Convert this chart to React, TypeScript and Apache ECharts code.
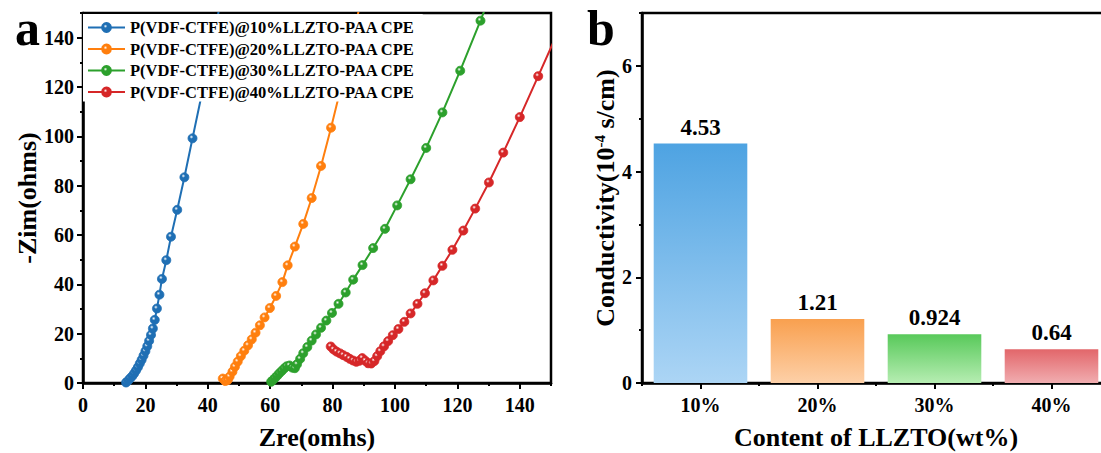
import { useEffect, useRef } from "react";
import * as echarts from "echarts";

const FONT = "'Liberation Serif', 'Times New Roman', serif";

// Nyquist plots, [Zre, -Zim] in ohms
const seriesNames = [
  "P(VDF-CTFE)@10%LLZTO-PAA CPE",
  "P(VDF-CTFE)@20%LLZTO-PAA CPE",
  "P(VDF-CTFE)@30%LLZTO-PAA CPE",
  "P(VDF-CTFE)@40%LLZTO-PAA CPE",
];
const lineColors = ["#1f6fb4", "#ff7f0e", "#2ca02c", "#d62728"];

const nyquist10 = [
  [13.8, 0.2], [14.5, 1.0], [15.1, 1.9], [15.8, 2.8], [16.4, 3.9], [17.0, 5.1],
  [17.6, 6.4], [18.2, 7.9], [18.8, 9.4], [19.4, 11.1], [20.0, 12.9], [20.6, 14.9],
  [21.2, 17.1], [21.8, 19.5], [22.4, 22.1], [23.0, 25.6], [23.7, 30.2], [24.5, 35.8],
  [25.3, 42.2], [26.7, 49.8], [28.2, 59.3], [30.2, 70.2], [32.5, 83.4], [35.1, 99.2],
  [38.3, 118.5], [42.0, 141.5], [46.3, 168.0],
];
const nyquist20 = [
  [44.8, 1.8], [45.6, 0.8], [46.4, 1.2], [47.0, 2.6], [47.9, 4.6], [48.7, 6.6],
  [49.6, 8.7], [50.6, 10.9], [51.7, 13.1], [52.9, 15.3], [54.1, 17.7], [55.3, 20.4],
  [56.7, 23.4], [58.2, 26.6], [59.9, 30.4], [61.9, 35.3], [63.9, 40.9], [65.6, 47.7],
  [67.9, 55.3], [70.6, 64.5], [73.3, 75.0], [76.3, 88.0], [79.5, 103.5], [83.0, 121.5],
  [86.8, 142.0], [91.0, 166.0],
];
const nyquist30 = [
  [60.3, 0.5], [60.9, 1.2], [61.5, 2.0], [62.2, 2.9], [62.9, 3.9], [63.7, 4.9],
  [64.5, 5.9], [65.3, 6.8], [66.2, 7.1], [67.1, 6.2], [67.9, 6.0], [68.6, 7.6],
  [69.6, 9.8], [70.6, 12.1], [71.9, 14.6], [73.3, 17.2], [74.7, 19.7], [76.3, 22.4],
  [78.0, 25.3], [79.8, 28.4], [81.9, 32.1], [84.2, 36.7], [86.6, 41.9], [89.6, 47.8],
  [93.0, 54.7], [96.8, 62.5], [100.7, 72.0], [105.0, 82.6], [110.0, 95.3], [115.2, 109.7],
  [120.9, 126.6], [127.4, 146.9], [134.5, 170.0],
];
const nyquist40 = [
  [79.4, 14.8], [80.3, 13.6], [81.3, 12.7], [82.4, 12.0], [83.4, 11.3], [84.5, 10.6],
  [85.5, 9.8], [86.6, 9.1], [87.6, 8.6], [88.6, 9.0], [89.5, 10.1], [90.5, 9.0],
  [91.4, 8.0], [92.4, 7.9], [93.4, 8.9], [94.3, 10.9], [95.3, 12.9], [96.5, 14.9],
  [97.8, 17.0], [99.3, 19.4], [101.1, 21.9], [103.0, 24.8], [105.0, 28.2], [107.2, 32.1],
  [109.6, 36.4], [112.3, 41.6], [115.2, 47.5], [118.4, 54.0], [121.9, 61.8], [125.7, 70.7],
  [130.1, 81.3], [134.7, 93.4], [140.0, 107.8], [145.9, 124.4], [152.3, 142.5],
];
const nyquistData = [nyquist10, nyquist20, nyquist30, nyquist40];

// Ionic conductivity (10^-4 S/cm) vs LLZTO content
const contents = ["10%", "20%", "30%", "40%"];
const conductivity = [4.53, 1.21, 0.924, 0.64];
const barTopColors = ["#4ea3e2", "#f9a04f", "#58c95a", "#e2666a"];
const barBottomColors = ["#acd5f5", "#fdd0a8", "#b6edb2", "#f1adb0"];

const boldText = (size: number) => ({
  fontFamily: FONT,
  fontWeight: "bold" as const,
  fontSize: size,
  color: "#000",
});

const axisLineStyle = { show: true, lineStyle: { color: "#000", width: 2.5 } };
const majorTick = { show: true, length: 6, lineStyle: { color: "#000", width: 2 } };
const minorTickAxis = {
  axisLine: { show: false },
  axisTick: { show: true, length: 3, lineStyle: { color: "#000", width: 2 } },
  axisLabel: { show: false },
  splitLine: { show: false },
};

function sphere(color: string) {
  return new echarts.graphic.RadialGradient(0.38, 0.35, 0.7, [
    { offset: 0, color: "#ffffff" },
    { offset: 0.3, color: color },
    { offset: 1, color: color },
  ]);
}

export default function App() {
  const ref = useRef<HTMLDivElement>(null);

  useEffect(() => {
    if (!ref.current) return;
    const chart = echarts.init(ref.current, null, { renderer: "svg" });

    const option: any = {
      animation: false,
      backgroundColor: "#fff",
      grid: [
        {
          left: 83, right: 550, top: 13, bottom: 70,
          show: true, borderColor: "#000", borderWidth: 2.5,
          outerBoundsMode: "none",
        },
        {
          left: 642, right: -9, top: 13, bottom: 70,
          show: true, borderColor: "#000", borderWidth: 2.5,
          outerBoundsMode: "none",
        },
      ],
      legend: {
        data: seriesNames,
        orient: "vertical",
        left: 83,
        top: 14,
        padding: [5, 8, 1, 4],
        itemWidth: 37,
        itemHeight: 11,
        itemGap: 4.5,
        backgroundColor: "#fff",
        textStyle: { ...boldText(16.5), lineHeight: 16 },
      },
      xAxis: [
        {
          type: "value",
          gridIndex: 0,
          position: "bottom",
          min: 0,
          max: 150,
          interval: 20,
          axisLine: axisLineStyle,
          axisTick: majorTick,
          axisLabel: { ...boldText(20), margin: 12, showMaxLabel: false },
          splitLine: { show: false },
          name: "Zre(omhs)",
          nameLocation: "middle",
          nameGap: 41,
          nameTextStyle: boldText(26),
        },
        {
          type: "value",
          gridIndex: 0,
          position: "bottom",
          min: 0,
          max: 150,
          interval: 10,
          ...minorTickAxis,
        },
        {
          type: "category",
          gridIndex: 1,
          position: "bottom",
          data: contents,
          axisLine: axisLineStyle,
          axisTick: { ...majorTick, alignWithLabel: true },
          axisLabel: { ...boldText(20), margin: 12 },
          name: "Content of LLZTO(wt%)",
          nameLocation: "middle",
          nameGap: 41,
          nameTextStyle: boldText(26),
        },
        {
          type: "category",
          gridIndex: 1,
          position: "bottom",
          data: contents,
          ...minorTickAxis,
          axisTick: { show: true, alignWithLabel: false, length: 3, lineStyle: { color: "#000", width: 2 } },
        },
      ],
      yAxis: [
        {
          type: "value",
          gridIndex: 0,
          position: "left",
          min: 0,
          max: 150,
          interval: 20,
          axisLine: axisLineStyle,
          axisTick: majorTick,
          axisLabel: { ...boldText(20), margin: 9, showMaxLabel: false },
          splitLine: { show: false },
          name: "-Zim(ohms)",
          nameLocation: "middle",
          nameGap: 35,
          nameTextStyle: boldText(26),
        },
        {
          type: "value",
          gridIndex: 0,
          position: "left",
          min: 0,
          max: 150,
          interval: 10,
          ...minorTickAxis,
        },
        {
          type: "value",
          gridIndex: 1,
          position: "left",
          min: 0,
          max: 7,
          interval: 2,
          axisLine: axisLineStyle,
          axisTick: majorTick,
          axisLabel: { ...boldText(20), margin: 10, showMaxLabel: false },
          splitLine: { show: false },
          name: "Conductivity(10{sup|-4} s/cm)",
          nameLocation: "middle",
          nameGap: 24,
          nameTextStyle: {
            ...boldText(26),
            rich: {
              sup: { ...boldText(15), verticalAlign: "top", lineHeight: 15 },
            },
          },
        },
        {
          type: "value",
          gridIndex: 1,
          position: "left",
          min: 0,
          max: 7,
          interval: 1,
          ...minorTickAxis,
        },
      ],
      series: [
        ...nyquistData.map((data, i) => ({
          name: seriesNames[i],
          type: "line",
          xAxisIndex: 0,
          yAxisIndex: 0,
          data,
          clip: true,
          showAllSymbol: true,
          symbol: "circle",
          symbolSize: 9,
          lineStyle: { color: lineColors[i], width: 2 },
          itemStyle: { color: sphere(lineColors[i]), borderColor: lineColors[i], borderWidth: 0.8 },
          z: 2,
        })),
        {
          type: "bar",
          xAxisIndex: 2,
          yAxisIndex: 2,
          barWidth: "80%",
          data: conductivity.map((v, i) => ({
            value: v,
            itemStyle: {
              color: new echarts.graphic.LinearGradient(0, 0, 0, 1, [
                { offset: 0, color: barTopColors[i] },
                { offset: 1, color: barBottomColors[i] },
              ]),
            },
          })),
          label: {
            show: true,
            position: "top",
            distance: 5,
            ...boldText(23),
          },
        },
      ],
      graphic: [
        {
          type: "text",
          left: 15,
          top: 3,
          style: { text: "a", font: `bold 50px ${FONT}`, fill: "#000" },
        },
        {
          type: "text",
          left: 587,
          top: 3,
          style: { text: "b", font: `bold 50px ${FONT}`, fill: "#000" },
        },
      ],
    };

    chart.setOption(option);
    return () => chart.dispose();
  }, []);

  return (
    <div
      ref={ref}
      style={{ position: "fixed", left: 0, top: 0, width: 1101, height: 453, background: "#fff" }}
    />
  );
}
